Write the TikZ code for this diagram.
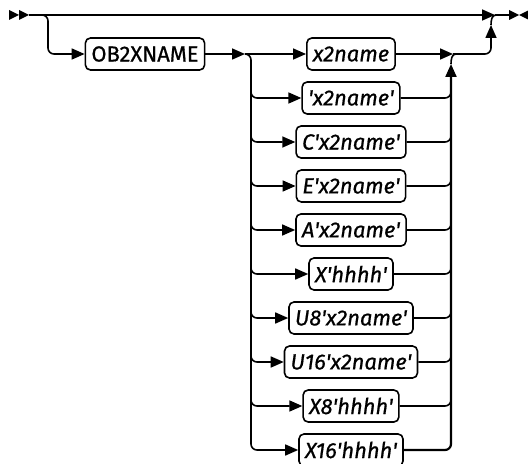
\documentclass[tikz,border=0pt]{standalone}
\usepackage{fontspec}
\setmainfont{Fira Sans}[FakeBold=0.7]
\usetikzlibrary{arrows.meta,positioning}
\newcommand{\qt}{\textquotesingle}

\begin{document}
\begin{tikzpicture}[x=1bp,y=-1bp,line width=1.6bp,
  termbox/.style={draw,rounded corners=5bp,minimum height=32bp,inner xsep=6bp,
                  inner ysep=0pt,font=\fontsize{22}{26}\selectfont},
  varbox/.style={termbox,font=\fontsize{22}{26}\selectfont\itshape},
  arr/.style={-{Triangle[length=13bp,width=11bp]}},
  turn/.style={rounded corners=6bp},
]
\useasboundingbox (0,0) rectangle (528,464);

% Main line
\coordinate (start) at (29,15);
\coordinate (bsplit) at (38,15);
\coordinate (join) at (495,15);
\coordinate (stop) at (509,15);
\fill (9,10) -- (19,15) -- (9,20) -- cycle;
\fill (19,10) -- (29,15) -- (19,20) -- cycle;
\draw[arr] (start) -- (join);
\draw (join) -- (stop);
\fill (509,10) -- (519,15) -- (509,20) -- cycle;
\fill (529,10) -- (519,15) -- (529,20) -- cycle;

% Keyword
\node[termbox] (obx) at (145,54) {OB2XNAME};
\coordinate (bdrop) at (48,54);
\draw[arr,turn] (bsplit) -| (bdrop) -- (obx.west);

% Choices
\foreach \lab [count=\i] in {x2name,\qt x2name\qt,C\qt x2name\qt,E\qt x2name\qt,
    A\qt x2name\qt,X\qt hhhh\qt,U8\qt x2name\qt,U16\qt x2name\qt,X8\qt hhhh\qt,X16\qt hhhh\qt}
  \node[varbox] (r\i) at (351,{54+44*(\i-1)}) {\lab};

% Split into the choices
\coordinate (ltip) at (245,54);
\coordinate (lsplit) at (251,54);
\draw[arr] (obx) -- (ltip);
\draw[arr] (ltip) -- (r1);
\draw[arr,turn] (ltip) -| (lsplit |- r10) -- (r10.west);
\foreach \i in {2,...,9}
  \draw[arr,turn] ([yshift=12bp]lsplit |- r\i) |- (r\i.west);

% Collect the choices
\coordinate (rtip) at (453,54);
\coordinate (rjoin) at (451,54);
\coordinate (utip) at (491,25);
\foreach \i in {2,...,9}
  \draw[turn] (r\i.east) -| ([yshift=12bp]rjoin |- r\i);
\draw[arr,turn,line width=2.2bp] (r10.east) -| ([yshift=-10bp]rjoin);
\draw ([yshift=-10bp]rjoin) to[out=90,in=180] ([xshift=5bp]rjoin);
\draw[arr] (r1) -- (rtip);
\draw[arr,turn] (rtip) -| (utip);
\draw (utip) to[out=90,in=180] ([xshift=1bp]join);

\end{tikzpicture}
\end{document}
